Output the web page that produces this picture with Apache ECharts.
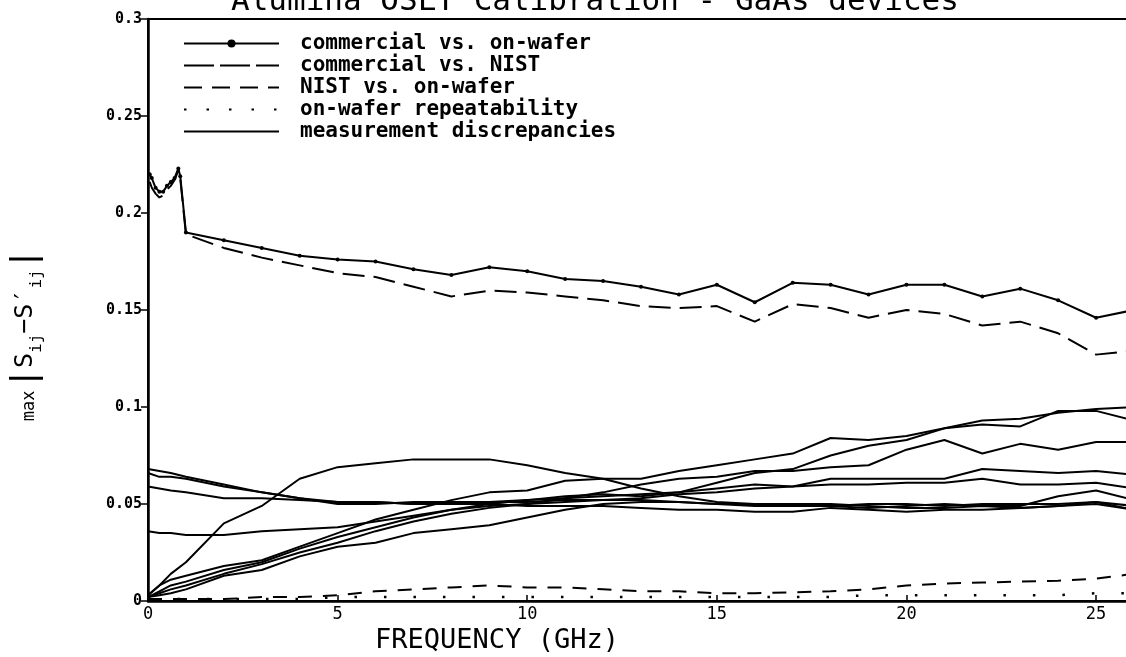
<!DOCTYPE html>
<html><head><meta charset="utf-8">
<script src="https://cdn.jsdelivr.net/npm/echarts@6/dist/echarts.min.js"></script>
<style>html,body{margin:0;padding:0;background:#fff}#c{width:1126px;height:657px}</style>
</head><body><div id="c"></div>
<script>
const titleText = 'Alumina OSLT Calibration - GaAs devices';
const xAxisTitle = 'FREQUENCY (GHz)';
const seriesNames = ['commercial vs. on-wafer', 'commercial vs. NIST', 'NIST vs. on-wafer', 'on-wafer repeatability', 'measurement discrepancies'];

// frequencies (GHz)
const freqCommercial = [0.045, 0.1, 0.2, 0.3, 0.4, 0.5, 0.6, 0.7, 0.8, 0.85, 1, 2, 3, 4, 5, 6, 7, 8, 9, 10, 11, 12, 13, 14, 15, 16, 17, 18, 19, 20, 21, 22, 23, 24, 25, 26];
const freqGHz = [0, 1, 2, 3, 4, 5, 6, 7, 8, 9, 10, 11, 12, 13, 14, 15, 16, 17, 18, 19, 20, 21, 22, 23, 24, 25, 26];
const freqMeas = [0, 0.3, 0.6, 1, 2, 3, 4, 5, 6, 7, 8, 9, 10, 11, 12, 13, 14, 15, 16, 17, 18, 19, 20, 21, 22, 23, 24, 25, 26];

const commercialVsOnWafer = [0.220, 0.218, 0.213, 0.211, 0.211, 0.214, 0.216, 0.218, 0.223, 0.219, 0.190, 0.186, 0.182, 0.178, 0.176, 0.175, 0.171, 0.168, 0.172, 0.170, 0.166, 0.165, 0.162, 0.158, 0.163, 0.154, 0.164, 0.163, 0.158, 0.163, 0.163, 0.157, 0.161, 0.155, 0.146, 0.150];
const commercialVsNIST = [0.216, 0.213, 0.210, 0.208, 0.209, 0.212, 0.214, 0.217, 0.222, 0.218, 0.189, 0.182, 0.177, 0.173, 0.169, 0.167, 0.162, 0.157, 0.160, 0.159, 0.157, 0.155, 0.152, 0.151, 0.152, 0.144, 0.153, 0.151, 0.146, 0.150, 0.148, 0.142, 0.144, 0.138, 0.127, 0.129];
const nistVsOnWafer = [0.001, 0.001, 0.001, 0.002, 0.002, 0.003, 0.005, 0.006, 0.007, 0.008, 0.007, 0.007, 0.006, 0.005, 0.005, 0.004, 0.004, 0.0045, 0.005, 0.006, 0.008, 0.009, 0.0095, 0.010, 0.0105, 0.0115, 0.014];
const onWaferRepeatability = [0.001, 0.001, 0.001, 0.001, 0.001, 0.002, 0.002, 0.002, 0.002, 0.002, 0.002, 0.002, 0.002, 0.002, 0.002, 0.002, 0.002, 0.002, 0.002, 0.003, 0.003, 0.003, 0.003, 0.003, 0.003, 0.004, 0.004];

// measurement discrepancies (one curve per device)
const discA = [0.003, 0.008, 0.014, 0.020, 0.040, 0.049, 0.063, 0.069, 0.071, 0.073, 0.073, 0.073, 0.070, 0.066, 0.063, 0.058, 0.054, 0.051, 0.050, 0.050, 0.050, 0.049, 0.048, 0.048, 0.049, 0.048, 0.049, 0.051, 0.047];
const discB = [0.068, 0.067, 0.066, 0.064, 0.060, 0.056, 0.053, 0.050, 0.050, 0.051, 0.051, 0.051, 0.052, 0.053, 0.054, 0.055, 0.056, 0.058, 0.060, 0.059, 0.060, 0.060, 0.061, 0.061, 0.063, 0.060, 0.060, 0.061, 0.058];
const discC = [0.066, 0.064, 0.064, 0.063, 0.059, 0.056, 0.053, 0.051, 0.051, 0.050, 0.050, 0.050, 0.049, 0.049, 0.049, 0.048, 0.047, 0.047, 0.046, 0.046, 0.048, 0.047, 0.046, 0.047, 0.047, 0.048, 0.049, 0.050, 0.047];
const discD = [0.059, 0.058, 0.057, 0.056, 0.053, 0.053, 0.052, 0.051, 0.051, 0.050, 0.050, 0.051, 0.051, 0.052, 0.052, 0.052, 0.051, 0.050, 0.050, 0.050, 0.049, 0.050, 0.050, 0.049, 0.050, 0.050, 0.050, 0.051, 0.049];
const discE = [0.036, 0.035, 0.035, 0.034, 0.034, 0.036, 0.037, 0.038, 0.041, 0.044, 0.047, 0.049, 0.050, 0.051, 0.052, 0.053, 0.055, 0.056, 0.058, 0.059, 0.063, 0.063, 0.063, 0.063, 0.068, 0.067, 0.066, 0.067, 0.065];
const discF = [0.003, 0.008, 0.011, 0.013, 0.018, 0.021, 0.028, 0.035, 0.042, 0.047, 0.052, 0.056, 0.057, 0.062, 0.063, 0.063, 0.067, 0.070, 0.073, 0.076, 0.084, 0.083, 0.085, 0.089, 0.093, 0.094, 0.097, 0.099, 0.100];
const discG = [0.002, 0.005, 0.008, 0.010, 0.016, 0.020, 0.027, 0.033, 0.038, 0.043, 0.047, 0.050, 0.052, 0.054, 0.055, 0.054, 0.056, 0.061, 0.066, 0.068, 0.075, 0.080, 0.083, 0.089, 0.091, 0.090, 0.098, 0.098, 0.093];
const discH = [0.002, 0.004, 0.006, 0.008, 0.014, 0.019, 0.025, 0.030, 0.036, 0.041, 0.045, 0.048, 0.050, 0.053, 0.056, 0.060, 0.063, 0.064, 0.067, 0.067, 0.069, 0.070, 0.078, 0.083, 0.076, 0.081, 0.078, 0.082, 0.082];
const discI = [0.002, 0.003, 0.004, 0.006, 0.013, 0.016, 0.023, 0.028, 0.030, 0.035, 0.037, 0.039, 0.043, 0.047, 0.050, 0.051, 0.051, 0.050, 0.049, 0.049, 0.049, 0.048, 0.049, 0.050, 0.049, 0.049, 0.054, 0.057, 0.052];
const discrepancyCurves = [discA, discB, discC, discD, discE, discF, discG, discH, discI];

const zip = (xs, ys) => xs.map((x, i) => [x, ys[i]]);
const MONO = '"DejaVu Sans Mono", "Liberation Mono", monospace';

const series = [
  { name: seriesNames[0], type: 'line', data: zip(freqCommercial, commercialVsOnWafer),
    symbol: 'circle', symbolSize: 4, showSymbol: true, itemStyle: { color: '#000' },
    lineStyle: { color: '#000', width: 2 } },
  { name: seriesNames[1], type: 'line', data: zip(freqCommercial, commercialVsNIST),
    symbol: 'none', itemStyle: { color: '#000' }, lineStyle: { color: '#000', width: 2, type: [22, 9] } },
  { name: seriesNames[2], type: 'line', data: zip(freqGHz, nistVsOnWafer),
    symbol: 'none', itemStyle: { color: '#000' }, lineStyle: { color: '#000', width: 2, type: [14, 11] } },
  { name: seriesNames[3], type: 'line', data: zip(freqGHz, onWaferRepeatability),
    symbol: 'none', itemStyle: { color: '#000' }, lineStyle: { color: '#000', width: 2.5, type: [2.5, 27] } }
].concat(discrepancyCurves.map(c => ({
  name: seriesNames[4], type: 'line', data: zip(freqMeas, c),
  symbol: 'none', itemStyle: { color: '#000' }, lineStyle: { color: '#000', width: 2 }
})));

const chart = echarts.init(document.getElementById('c'), null, { renderer: 'canvas' });
chart.setOption({
  animation: false,
  backgroundColor: '#fff',
  title: { text: titleText, left: 226, top: -19,
    textStyle: { fontFamily: MONO, fontSize: 31, fontWeight: 'normal', color: '#000' } },
  legend: {
    orient: 'vertical', left: 178, top: 28, itemWidth: 95, itemHeight: 10, itemGap: 1,
    data: [
      { name: seriesNames[0], itemStyle: { opacity: 1 } },
      { name: seriesNames[1], itemStyle: { opacity: 0 }, lineStyle: { type: [30, 6] } },
      { name: seriesNames[2], itemStyle: { opacity: 0 }, lineStyle: { type: [18, 10] } },
      { name: seriesNames[3], itemStyle: { opacity: 0 }, lineStyle: { type: [2.5, 20] } },
      { name: seriesNames[4], itemStyle: { opacity: 0 } }
    ],
    textStyle: { fontFamily: MONO, fontSize: 21, fontWeight: 'bold', color: '#000', padding: [0, 0, 0, 16], lineHeight: 18 }
  },
  grid: { left: 148, top: 19, width: 986, bottom: 56, show: true, borderColor: '#000', borderWidth: 2,
    containLabel: false, outerBoundsMode: 'none' },
  xAxis: {
    type: 'value', min: 0, max: 26, interval: 5,
    name: xAxisTitle, nameLocation: 'middle', nameGap: 21,
    nameTextStyle: { fontFamily: MONO, fontSize: 27, color: '#000', padding: [0, 288, 0, 0] },
    axisLine: { show: true, lineStyle: { color: '#000', width: 2.5 } },
    axisTick: { show: true, inside: true, length: 6, lineStyle: { color: '#000', width: 1.5 } },
    axisLabel: { showMaxLabel: false, fontFamily: MONO, fontSize: 17, color: '#000', margin: 5 },
    splitLine: { show: false }
  },
  yAxis: {
    type: 'value', min: 0, max: 0.3, interval: 0.05,
    name: '{m|max}{b||}{s|S}{u|ij}{s|−S′}{u|ij}{b||}', nameLocation: 'middle', nameRotate: 90, nameGap: 103,
    nameTextStyle: { color: '#000', padding: [0, 50, 0, 0],
      rich: {
        m: { fontFamily: MONO, fontSize: 17, color: '#000', verticalAlign: 'bottom', padding: [0, 2, 7, 0] },
        b: { fontFamily: MONO, fontSize: 34, color: '#000', verticalAlign: 'bottom', padding: [0, 0, 2, 0] },
        s: { fontFamily: MONO, fontSize: 25, color: '#000', verticalAlign: 'bottom', padding: [0, 0, 7, 0] },
        u: { fontFamily: MONO, fontSize: 16, color: '#000', verticalAlign: 'bottom', padding: [0, 0, 0, 0] }
      } },
    axisLine: { show: true, lineStyle: { color: '#000', width: 2.5 } },
    axisTick: { show: true, inside: false, length: 7, lineStyle: { color: '#000', width: 1.5 } },
    axisLabel: { fontFamily: MONO, fontSize: 15, fontWeight: 'bold', color: '#000', margin: 6 },
    splitLine: { show: false }
  },
  series: series
});
</script></body></html>
